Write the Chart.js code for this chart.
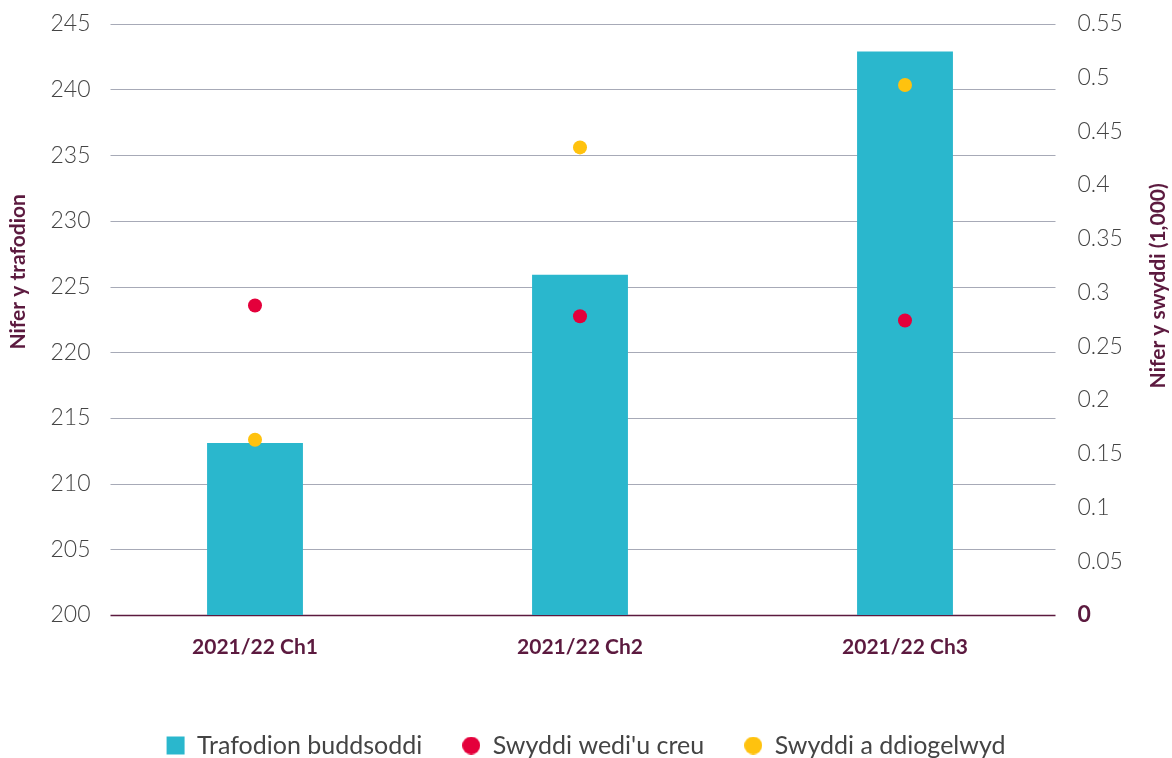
<!DOCTYPE html>
<html>
<head>
<meta charset="utf-8">
<script src="https://cdn.jsdelivr.net/npm/chart.js@4/dist/chart.umd.min.js"></script>
<style>
  html, body { margin: 0; padding: 0; background: #fff; }
  #wrap { width: 1172px; height: 758px; }
</style>
</head>
<body>
<div id="wrap"><canvas id="chart"></canvas></div>
<script>
const categories = ["2021/22 Ch1", "2021/22 Ch2", "2021/22 Ch3"];
const investments = [213.1, 225.9, 242.9];
const jobsCreated = [0.288, 0.278, 0.274];
const jobsSafeguarded = [0.163, 0.435, 0.493];

const MAROON = "#5c1a3f";
const TEXT = "#444444";
const FONT = "Lato";
const BLUE = "#2ab7cd", RED = "#e4003b", YELLOW = "#ffc20e";

const isZero = c => !!(c && c.tick && c.tick.value === 0);

// small round legend markers, same size as the square one
function dot(color) {
  const c = document.createElement("canvas");
  c.width = 18; c.height = 18;
  const g = c.getContext("2d");
  g.fillStyle = color;
  g.beginPath();
  g.arc(9, 9, 9, 0, Math.PI * 2);
  g.fill();
  return c;
}

// grid lines stop short of the plot edges, like the original
const gridPlugin = {
  id: "grid",
  beforeDatasetsDraw(chart) {
    const { ctx, chartArea } = chart;
    const y = chart.scales.y;
    const x0 = chartArea.left + 18, x1 = chartArea.right - 12;
    ctx.save();
    y.ticks.forEach(t => {
      const py = Math.round(y.getPixelForValue(t.value)) + 0.5;
      ctx.strokeStyle = t.value === 200 ? MAROON : "#a7aab7";
      ctx.lineWidth = t.value === 200 ? 1.5 : 1;
      ctx.beginPath();
      ctx.moveTo(x0, py);
      ctx.lineTo(x1, py);
      ctx.stroke();
    });
    ctx.restore();
  },
  afterDraw(chart) {
    const { ctx, chartArea } = chart;
    const title = (text, x, y) => {
      ctx.save();
      ctx.fillStyle = MAROON;
      ctx.font = `bold 21px ${FONT}`;
      ctx.textAlign = "center";
      ctx.textBaseline = "middle";
      ctx.translate(x, y);
      ctx.rotate(-Math.PI / 2);
      ctx.fillText(text, 0, 0);
      ctx.restore();
    };
    title("Nifer y trafodion", 18, chartArea.top + 248);
    title("Nifer y swyddi (1,000)", 1158, chartArea.top + 262);
  }
};

const legendIcons = ["rect", dot(RED), dot(YELLOW)];

new Chart(document.getElementById("chart"), {
  data: {
    labels: categories,
    datasets: [
      {
        type: "bar",
        label: "Trafodion buddsoddi",
        data: investments,
        backgroundColor: BLUE,
        yAxisID: "y",
        order: 1,
        barPercentage: 1,
        categoryPercentage: 0.295
      },
      {
        type: "line",
        label: "Swyddi wedi'u creu",
        data: jobsCreated,
        showLine: false,
        pointRadius: 7,
        pointBackgroundColor: RED,
        pointBorderWidth: 0,
        backgroundColor: RED,
        borderColor: RED,
        yAxisID: "y1",
        order: 0
      },
      {
        type: "line",
        label: "Swyddi a ddiogelwyd",
        data: jobsSafeguarded,
        showLine: false,
        pointRadius: 7,
        pointBackgroundColor: YELLOW,
        pointBorderWidth: 0,
        backgroundColor: YELLOW,
        borderColor: YELLOW,
        yAxisID: "y1",
        order: 0
      }
    ]
  },
  options: {
    responsive: true,
    maintainAspectRatio: false,
    animation: false,
    layout: { padding: { top: 23, bottom: -10 } },
    plugins: {
      tooltip: { enabled: false },
      legend: {
        position: "bottom",
        labels: {
          font: { family: FONT, size: 25 },
          color: TEXT,
          usePointStyle: true,
          boxWidth: 18,
          boxHeight: 18,
          padding: 40,
          generateLabels(chart) {
            return chart.data.datasets.map((ds, i) => ({
              text: ds.label,
              fillStyle: ds.backgroundColor,
              strokeStyle: ds.backgroundColor,
              lineWidth: 0,
              pointStyle: legendIcons[i],
              datasetIndex: i,
              fontColor: TEXT
            }));
          }
        }
      }
    },
    scales: {
      x: {
        offset: true,
        grid: { display: false, drawTicks: false },
        border: { display: false },
        ticks: {
          padding: 20,
          color: MAROON,
          font: { family: FONT, size: 21, weight: "bold" }
        },
        afterFit(scale) { scale.height = 78; }
      },
      y: {
        position: "left",
        min: 200,
        max: 245,
        grid: { display: false, drawTicks: false },
        border: { display: false },
        ticks: {
          stepSize: 5,
          padding: 2,
          color: TEXT,
          font: { family: FONT, size: 23, weight: "300" }
        },
        afterFit(scale) { scale.width = 92.5; }
      },
      y1: {
        position: "right",
        min: 0,
        max: 0.55,
        grid: { display: false, drawTicks: false },
        border: { display: false },
        ticks: {
          stepSize: 0.05,
          padding: 10,
          color: c => isZero(c) ? MAROON : TEXT,
          font: c => isZero(c)
            ? { family: FONT, size: 23, weight: "bold" }
            : { family: FONT, size: 23, weight: "300" },
          callback: v => Math.round(v * 100) / 100
        },
        afterFit(scale) { scale.width = 104.5; }
      }
    }
  },
  plugins: [gridPlugin]
});
</script>
</body>
</html>
